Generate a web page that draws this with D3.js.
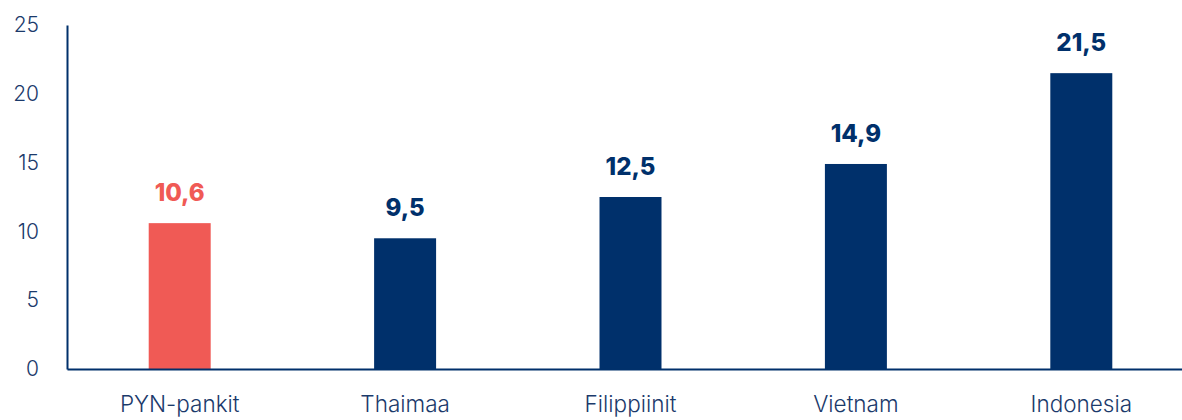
<!DOCTYPE html>
<html><head><meta charset="utf-8">
<script src="https://cdn.jsdelivr.net/npm/d3@7"></script>
<style>body{margin:0;background:#fff}svg{display:block}</style>
</head><body><svg id="c" width="1182" height="420"></svg>
<script>
const categories = ["PYN-pankit","Thaimaa","Filippiinit","Vietnam","Indonesia"];
const values = [10.6, 9.5, 12.5, 14.9, 21.5];
const labels = ["10,6","9,5","12,5","14,9","21,5"];
const yTicks = [0,5,10,15,20,25];
const highlight = ["PYN-pankit"];

const navy = "#00306b", red = "#f05a55", txt = "#1b3a6b";
const font = "Inter, 'Open Sans', sans-serif";
const svg = d3.select("#c");
const x0 = 67, x1 = 1194, yB = 369, yT = 25;
const x = d3.scaleBand().domain(categories).range([x0, x1]).paddingInner(0.725).paddingOuter(0.3625);
const y = d3.scaleLinear().domain([0,25]).range([yB, yT]);

svg.selectAll("rect.bar").data(categories).join("rect").attr("class","bar")
  .attr("x", d => x(d)).attr("width", x.bandwidth())
  .attr("y", (d,i) => y(values[i])).attr("height", (d,i) => yB - y(values[i]))
  .attr("fill", d => highlight.includes(d) ? red : navy);

svg.selectAll("text.val").data(categories).join("text").attr("class","val")
  .attr("x", d => x(d) + x.bandwidth()/2).attr("y", (d,i) => y(values[i]) - 22)
  .attr("text-anchor","middle").attr("font-family", font).attr("font-weight", 800)
  .attr("font-size", 24).attr("fill", d => highlight.includes(d) ? red : navy)
  .text((d,i) => labels[i]);

const yAxis = d3.axisLeft(y).tickValues(yTicks).tickSize(0).tickPadding(28).tickFormat(d3.format("d"));
const gy = svg.append("g").attr("transform", `translate(${x0},0)`).call(yAxis);
gy.select(".domain").attr("stroke", navy).attr("stroke-width", 2);
gy.selectAll("text").attr("font-family", font).attr("font-size", 21).attr("fill", txt).attr("font-weight", 300);

const xAxis = d3.axisBottom(x).tickSize(0).tickPadding(27);
const gx = svg.append("g").attr("transform", `translate(0,${yB})`).call(xAxis);
gx.select(".domain").attr("stroke", navy).attr("stroke-width", 2);
gx.selectAll("text").attr("font-family", font).attr("font-size", 22.5).attr("fill", txt).attr("font-weight", 300);
</script></body></html>
